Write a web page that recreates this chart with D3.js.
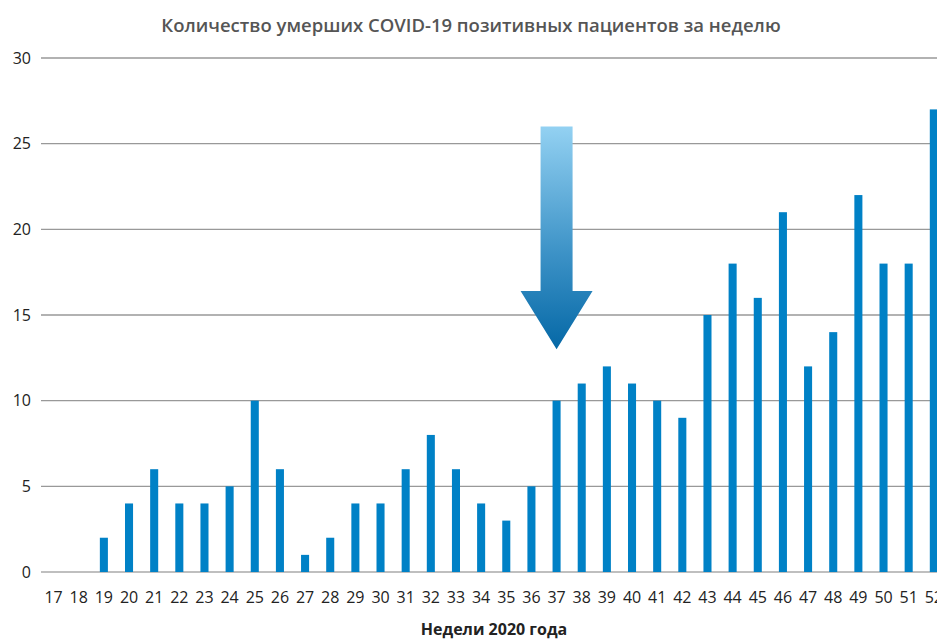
<!DOCTYPE html>
<html>
<head>
<meta charset="utf-8">
<script src="https://cdn.jsdelivr.net/npm/d3@7"></script>
<style>
  body { margin: 0; background: #fff; }
  svg { display: block; }
</style>
</head>
<body>
<svg id="chart" width="937" height="639"></svg>
<script>
const weeks = ['17','18','19','20','21','22','23','24','25','26','27','28','29','30','31','32','33','34',
               '35','36','37','38','39','40','41','42','43','44','45','46','47','48','49','50','51','52'];
const deaths = [0,0,2,4,6,4,4,5,10,6,1,2,4,4,6,8,6,4,3,5,10,11,12,11,10,9,15,18,16,21,12,14,22,18,18,27];
const yTicks = [0,5,10,15,20,25,30];

const titleText = 'Количество умерших COVID-19 позитивных пациентов за неделю';
const xTitle = 'Недели 2020 года';

// arrow annotation: week and value range
const arrowWeek = '37';
const arrowTop = 26, arrowHeadStart = 16.4, arrowTip = 13.0;

const svg = d3.select('#chart');
const margin = { left: 41, top: 58, bottom: 572 };

const x = d3.scaleBand()
    .domain(weeks)
    .range([margin.left, margin.left + 25.15 * weeks.length])
    .paddingInner(0.68)
    .paddingOuter(0.34);

const y = d3.scaleLinear()
    .domain([0, 30])
    .range([margin.bottom, margin.top]);

// gridlines
svg.append('g')
    .selectAll('line')
    .data(yTicks)
    .enter()
    .append('line')
    .attr('x1', margin.left)
    .attr('x2', 937)
    .attr('y1', d => y(d))
    .attr('y2', d => y(d))
    .attr('stroke', d => d === 0 ? '#aaa' : '#999')
    .attr('stroke-width', 1.3);

// y tick labels
svg.append('g')
    .selectAll('text')
    .data(yTicks)
    .enter()
    .append('text')
    .attr('x', 31)
    .attr('y', d => y(d) + 5.5)
    .attr('text-anchor', 'end')
    .attr('font-family', 'Open Sans, sans-serif')
    .attr('font-size', 16)
    .attr('fill', '#222')
    .text(d => d);

// bars
svg.append('g')
    .selectAll('rect')
    .data(weeks.map((w, i) => ({ w, v: deaths[i] })))
    .enter()
    .append('rect')
    .attr('x', d => x(d.w))
    .attr('y', d => y(d.v))
    .attr('width', x.bandwidth())
    .attr('height', d => y(0) - y(d.v))
    .attr('fill', '#0081c6');

// x labels
svg.append('g')
    .selectAll('text')
    .data(weeks)
    .enter()
    .append('text')
    .attr('x', d => x(d) + x.bandwidth() / 2)
    .attr('y', 603)
    .attr('text-anchor', 'middle')
    .attr('font-family', 'Open Sans, sans-serif')
    .attr('font-size', 16)
    .attr('fill', '#222')
    .text(d => d);

// title
svg.append('text')
    .attr('x', 471)
    .attr('y', 32)
    .attr('text-anchor', 'middle')
    .attr('font-family', 'Open Sans, sans-serif')
    .attr('font-weight', 600)
    .attr('font-size', 18.5)
    .attr('fill', '#555')
    .text(titleText);

svg.append('text')
    .attr('x', 494)
    .attr('y', 635)
    .attr('text-anchor', 'middle')
    .attr('font-family', 'Open Sans, sans-serif')
    .attr('font-weight', 'bold')
    .attr('font-size', 16)
    .attr('fill', '#222')
    .text(xTitle);

// arrow
const defs = svg.append('defs');
const grad = defs.append('linearGradient')
    .attr('id', 'arrowGrad')
    .attr('x1', 0).attr('y1', 0).attr('x2', 0).attr('y2', 1);
grad.append('stop').attr('offset', '0%').attr('stop-color', '#93d1f2');
grad.append('stop').attr('offset', '55%').attr('stop-color', '#3f94c8');
grad.append('stop').attr('offset', '100%').attr('stop-color', '#0568a6');

const cx = x(arrowWeek) + x.bandwidth() / 2;
const shaftW = 16, headW = 36;
const arrowPath = d3.path();
arrowPath.moveTo(cx - shaftW, y(arrowTop));
arrowPath.lineTo(cx + shaftW, y(arrowTop));
arrowPath.lineTo(cx + shaftW, y(arrowHeadStart));
arrowPath.lineTo(cx + headW, y(arrowHeadStart));
arrowPath.lineTo(cx, y(arrowTip));
arrowPath.lineTo(cx - headW, y(arrowHeadStart));
arrowPath.lineTo(cx - shaftW, y(arrowHeadStart));
arrowPath.closePath();

svg.append('path')
    .attr('d', arrowPath.toString())
    .attr('fill', 'url(#arrowGrad)');
</script>
</body>
</html>
